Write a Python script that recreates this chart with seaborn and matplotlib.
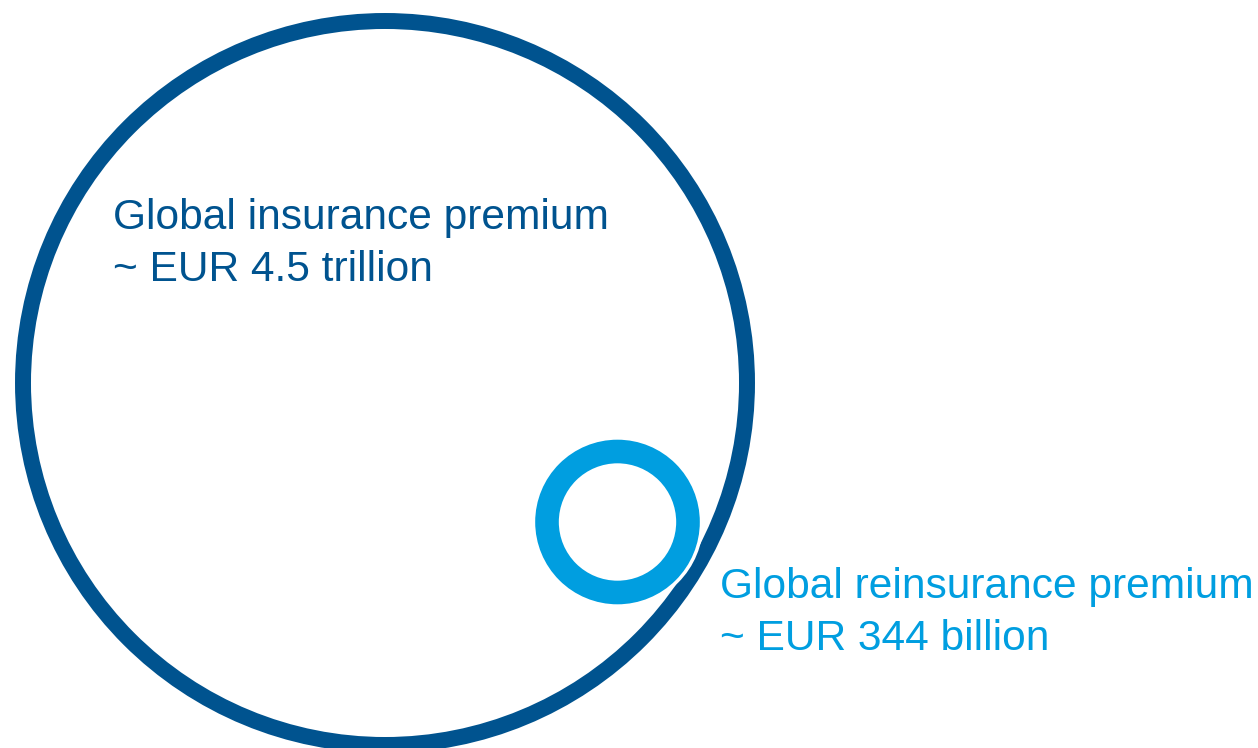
import matplotlib
matplotlib.use("Agg")
import matplotlib.pyplot as plt
from matplotlib.patches import Circle
import seaborn as sns

# Data
labels = ["Global insurance premium", "Global reinsurance premium"]
amounts = ["~ EUR 4.5 trillion", "~ EUR 344 billion"]

sns.set_theme(style="white")
plt.rcParams["font.family"] = ["Liberation Sans", "DejaVu Sans"]

dark_blue = "#00538f"
light_blue = "#009ee0"

fig = plt.figure(figsize=(12.58, 7.48), dpi=100)
ax = fig.add_axes([0, 0, 1, 1])
ax.set_xlim(0, 1258)
ax.set_ylim(748, 0)
ax.set_aspect("equal")
ax.axis("off")

# big circle (pixel-ish coordinates, line width in points)
ax.add_patch(Circle((385, 383), 362, fill=False, ec=dark_blue, lw=11.5))

# small ring with a thin white halo where it meets the big circle
ax.add_patch(Circle((617.5, 522), 70.5, fill=False, ec="white", lw=22))
ax.add_patch(Circle((617.5, 522), 70.5, fill=False, ec=light_blue, lw=17))

fs = 30.6
ax.text(113, 229, labels[0], color=dark_blue, fontsize=fs, va="baseline", ha="left")
ax.text(113, 281, amounts[0], color=dark_blue, fontsize=fs, va="baseline", ha="left")
ax.text(720, 598, labels[1], color=light_blue, fontsize=fs, va="baseline", ha="left")
ax.text(720, 650, amounts[1], color=light_blue, fontsize=fs, va="baseline", ha="left")

fig.savefig("out.png", dpi=100)
